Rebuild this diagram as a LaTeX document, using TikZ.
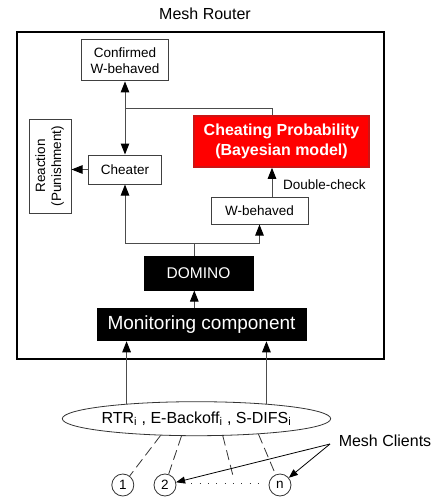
\documentclass[tikz,border=0pt]{standalone}
\usepackage{fontspec}
\setmainfont{Liberation Sans}
\usepackage{xcolor}
\usetikzlibrary{shapes.geometric, positioning, arrows.meta}
\definecolor{boxred}{RGB}{255,0,0}
\definecolor{boxredline}{RGB}{205,20,20}

\begin{document}
\begin{tikzpicture}[x=1pt, y=-1pt]
    % Styles for the boxes and arrows
    \tikzstyle{box}=[draw=black!75, line width=1pt, align=center, font=\fontsize{13.5}{16}\selectfont]
    \tikzstyle{dark box}=[draw=black, fill=black, text=white]
    \tikzstyle{client}=[circle, draw=black!80, line width=0.8pt, minimum size=22pt, inner sep=0pt, font=\fontsize{13.5}{16}\selectfont]
    \tikzstyle{line}=[draw=black!70, line width=1pt]
    \tikzstyle{arr}=[line, -{Triangle[length=11pt, width=8.5pt, color=black]}]
    \tikzstyle{arrs}=[line, draw=black, line width=0.8pt, -{Triangle[length=9pt, width=7pt, color=black]}]
    \tikzstyle{link}=[draw=black!80, line width=0.8pt, dash pattern=on 10pt off 5pt]

    \useasboundingbox (0,0) rectangle (438,504);

    % Draw the router frame and its title
    \node[font=\fontsize{16}{18}\selectfont] (title) at (205,14) {Mesh Router};
    \node[draw, line width=1.5pt, minimum width=367pt, minimum height=327pt] (router) at (200.5,195.5) {};

    % Draw the boxes inside the router
    \node[box, minimum width=87pt, minimum height=41.5pt, inner sep=1pt] (confirmed) at (125,60.2) {Confirmed\\W-behaved};
    \node[box, minimum width=42pt, minimum height=94pt, inner sep=0pt] (reaction) at (50,166)
        {\rotatebox{90}{\begin{tabular}{@{}c@{}}Reaction\\(Punishment)\end{tabular}}};
    \node[box, minimum width=73pt, minimum height=29pt] (cheater) at (125,169.5) {Cheater};
    \node[box, draw=boxredline, line width=1.5pt, fill=boxred, text=white, minimum width=175pt, minimum height=51pt,
          font=\fontsize{16}{20}\selectfont\bfseries] (prob) at (281.5,141.5) {Cheating Probability\\(Bayesian model)};
    \node[box, minimum width=97pt, minimum height=27pt] (wb) at (259.5,210.5) {W-behaved};
    \node[anchor=west, inner sep=0pt, font=\fontsize{13.5}{16}\selectfont] (dc) at (283,185) {Double-check};
    \node[box, dark box, minimum width=109pt, minimum height=33.5pt, font=\fontsize{15.5}{18}\selectfont] (domino) at (198.5,273.3) {DOMINO};
    \node[box, dark box, minimum width=209pt, minimum height=32.5pt, font=\fontsize{19}{22}\selectfont] (mon) at (201.5,324.5) {Monitoring component};

    % Draw the measured values and the clients
    \node[ellipse, draw=black!80, line width=0.8pt, minimum width=221pt, minimum height=34pt, inner sep=0pt,
          font=\fontsize{16}{18}\selectfont] (ell) at (196.5,418.7)
        {RTR\textsubscript{i} , E-Backoff\textsubscript{i} , S-DIFS\textsubscript{i}};
    \node[client] (c1) at (122.8,485) {1};
    \node[client] (c2) at (165,485) {2};
    \node[client] (cn) at (280,485) {n};
    \node[font=\fontsize{16}{18}\selectfont] (mc) at (385,441) {Mesh Clients};

    % Junctions of the connectors
    \coordinate (bus) at (194.3,243);
    \coordinate (corner) at (272,108);
    \coordinate (split) at (330,444);
    \coordinate (gap) at (233.3,477);

    % Draw the arrows inside the router
    \draw[arr] (mon.north -| bus) -- (domino.south -| bus);
    \draw[line] (domino.north -| bus) -- (bus);
    \draw[arr] (bus) -| (cheater.south);
    \draw[arr] (bus) -| (wb.south);
    \draw[arr] (cheater.west) -- (cheater.west -| reaction.east);
    \draw[line, {Triangle[length=11pt, width=8.5pt, color=black]}-{Triangle[length=11pt, width=8.5pt, color=black]}] (confirmed.south) -- (cheater.north);
    \draw[line] (prob.north -| corner) -- (corner) -- (corner -| cheater.north);
    \draw[arr] (wb.north -| corner) -- (prob.south -| corner);

    % Draw the arrows into the router
    \draw[arr] (ell.168) -- (ell.168 |- mon.south);
    \draw[arr] (ell.12) -- (ell.12 |- mon.south);

    % Draw the links to the clients
    \draw[link] (ell.205) -- (c1);
    \draw[link] (ell.229) -- (c2);
    \draw[link] (ell.327) -- (gap);
    \draw[link] (ell.346) -- (cn);
    \draw[draw=black!80, line width=1pt, dash pattern=on 1pt off 7.3pt, shorten <=15pt, shorten >=9pt] (c2.east |- 0,483.3) -- (cn.west |- 0,483.3);
    \draw[arrs] (split) -- (c2);
    \draw[arrs] (split) -- (cn);
\end{tikzpicture}
\end{document}
